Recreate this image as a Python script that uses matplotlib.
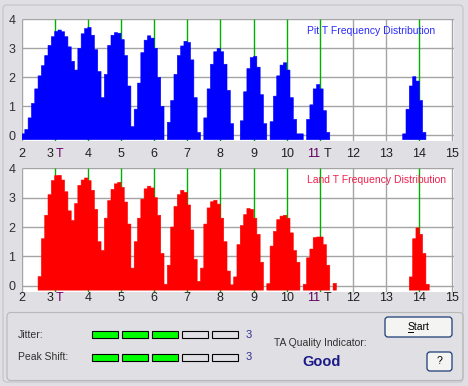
import numpy as np
import matplotlib
matplotlib.use('Agg')
import matplotlib.pyplot as plt
from matplotlib.patches import FancyBboxPatch, Rectangle

W, H = 468, 386
BG = '#e0dfe3'
plt.rcParams['font.family'] = ['Liberation Sans', 'DejaVu Sans']

# left edge of each 0.1 T histogram bin
t_bins = np.round(np.arange(2.0, 15.0, 0.1), 1)

# pit length histogram
pit_counts = [
    0.05, 0.2, 0.6, 1.1, 1.6, 2.05, 2.4, 2.75, 3.1, 3.4,
    3.58, 3.63, 3.57, 3.4, 3.05, 2.55, 2.25, 3.0, 3.5, 3.68,
    3.72, 3.45, 2.95, 2.2, 1.3, 2.1, 3.1, 3.45, 3.54, 3.52,
    3.3, 2.75, 1.7, 0.3, 0.9, 1.8, 2.85, 3.28, 3.43, 3.35,
    3.0, 2.0, 1.0, 0, 0.45, 1.2, 2.1, 2.75, 3.08, 3.24,
    3.2, 2.6, 1.3, 0.1, 0, 0.6, 1.6, 2.45, 2.88, 2.99,
    2.88, 2.45, 1.55, 0.4, 0, 0, 0.5, 1.5, 2.3, 2.68,
    2.72, 2.35, 1.4, 0.4, 0, 0.47, 1.35, 2.05, 2.42, 2.5,
    2.25, 1.3, 0.55, 0.05, 0.05, 0, 0.55, 1.05, 1.6, 1.75,
    1.6, 0.85, 0.1, 0, 0, 0, 0, 0, 0, 0,
    0, 0, 0, 0, 0, 0, 0, 0, 0, 0,
    0, 0, 0, 0, 0, 0.05, 0.9, 1.7, 2.02, 1.87,
    1.2, 0.1, 0, 0, 0, 0, 0, 0, 0, 0,
]

# land length histogram
land_counts = [
    0, 0, 0, 0, 0, 0.31, 1.6, 2.4, 3.1, 3.58,
    3.75, 3.76, 3.6, 3.2, 2.55, 2.22, 2.8, 3.42, 3.6, 3.67,
    3.58, 3.25, 2.6, 1.5, 1.2, 2.3, 2.9, 3.28, 3.47, 3.52,
    3.35, 2.85, 2.1, 0.6, 1.5, 2.3, 2.95, 3.3, 3.39, 3.33,
    3.0, 2.4, 1.1, 0.05, 0.7, 2.0, 2.7, 3.1, 3.25, 3.18,
    2.75, 1.9, 0.9, 0.15, 0.6, 2.1, 2.65, 2.86, 2.91, 2.78,
    2.3, 1.5, 0.5, 0.03, 0.3, 1.4, 2.05, 2.42, 2.63, 2.6,
    2.3, 1.75, 0.8, 0, 0.07, 1.35, 1.85, 2.25, 2.37, 2.4,
    2.3, 1.8, 1.2, 0.8, 0, 0.05, 0.95, 1.25, 1.64, 1.66,
    1.66, 1.4, 0.7, 0, 0.08, 0, 0, 0, 0, 0,
    0, 0, 0, 0, 0, 0, 0, 0, 0, 0,
    0, 0, 0, 0, 0, 0, 0, 0.3, 1.6, 1.97,
    1.75, 1.1, 0.05, 0, 0, 0, 0, 0, 0, 0,
]

t_marks = [3, 4, 5, 6, 7, 8, 9, 10, 11, 14]
x_ticks = list(range(2, 16))
y_ticks = [0, 1, 2, 3, 4]

jitter_level = 3
peak_shift_level = 3
n_segments = 5
quality = 'Good'


def fx(px):
    return px / W


def fy(py):
    return 1 - py / H


fig = plt.figure(figsize=(W / 100, H / 100), dpi=100, facecolor=BG)

# full-figure layer in pixel coords for frames, buttons and labels
ui = fig.add_axes([0, 0, 1, 1])
ui.set_xlim(0, W)
ui.set_ylim(H, 0)
ui.axis('off')
ui.set_zorder(-1)


def draw_hist(rect, counts, color, title, title_color, lab_y):
    ax = fig.add_axes(rect)
    ax.set_facecolor('white')
    ax.set_xlim(2, 15.06)
    ax.set_ylim(-0.2, 4.02)
    for s in ax.spines.values():
        s.set_visible(False)
    ax.set_xticks([])
    ax.set_yticks(y_ticks)
    ax.tick_params(axis='y', length=0, pad=4.5, labelsize=9, labelcolor='#303030')

    for t in x_ticks:
        if t not in t_marks:
            ax.vlines(t, -0.2, 4.02, color='#a4a4a4', lw=1.0, zorder=1)
    ax.hlines(y_ticks, 2, 15.06, color='#a4a4a4', lw=1.0, zorder=1)
    ax.vlines(t_marks, -0.2, 4.02, color='#00b000', lw=1.0, zorder=2)

    # one filled step polygon per run of non-empty bins
    h = np.array(counts)
    i = 0
    while i < len(h):
        if h[i] <= 0:
            i += 1
            continue
        j = i
        while j < len(h) and h[j] > 0:
            j += 1
        edges = np.append(t_bins[i:j], t_bins[j - 1] + 0.1)
        xs = np.concatenate([[edges[0]], np.repeat(edges, 2)[1:-1], [edges[-1]]])
        ys = np.concatenate([[-0.15], np.repeat(h[i:j], 2), [-0.15]])
        ax.fill(xs, ys, color=color, lw=0.4, snap=False, zorder=3)
        i = j

    ax.text(10.6, 3.6, title, color=title_color, fontsize=7.5, ha='left', va='center', zorder=4)

    for t in x_ticks:
        if t == 3:
            ax.text(t - 0.14, lab_y, '3', ha='center', va='center', fontsize=9, color='#202020', clip_on=False)
            ax.text(t + 0.14, lab_y, 'T', ha='center', va='center', fontsize=9, color='#700070', clip_on=False)
        elif t == 11:
            ax.text(t - 0.2, lab_y, '11', ha='center', va='center', fontsize=9, color='#600060', clip_on=False)
            ax.text(t + 0.24, lab_y, 'T', ha='center', va='center', fontsize=9, color='#202020', clip_on=False)
        else:
            ax.text(t, lab_y, str(t), ha='center', va='center', fontsize=9, color='#202020', clip_on=False)
    return ax


ax_pit = draw_hist([fx(21.5), fy(141.1), 432.9 / W, 122.4 / H], pit_counts, '#0000ff',
                   'Pit T Frequency Distribution', '#2a2aff', -0.64)
ax_land = draw_hist([fx(21.5), fy(291.6), 432.9 / W, 123.9 / H], land_counts, '#ff0000',
                    'Land T Frequency Distribution', '#f0204c', -0.42)

# outer frame and lower group box
ui.add_patch(FancyBboxPatch((3, 5), 460, 377, boxstyle='round,pad=0,rounding_size=4',
                            fc='none', ec='#c4c4c4', lw=0.8))
ui.add_patch(FancyBboxPatch((7, 312.5), 456, 68, boxstyle='round,pad=0,rounding_size=4',
                            fc='none', ec='#b8b8b8', lw=0.8))

# jitter / peak shift meters
for label, level, yc in [('Jitter:', jitter_level, 334.5), ('Peak Shift:', peak_shift_level, 357.2)]:
    ui.text(18, yc, label, fontsize=7.5, color='#303030', ha='left', va='center')
    for k in range(n_segments):
        fc = '#00ff00' if k < level else BG
        ui.add_patch(Rectangle((91.7 + 30 * k, yc - 3.6), 26.6, 7.2, fc=fc, ec='black', lw=0.8))
    ui.text(246, yc, str(level), fontsize=8, color='#303090', ha='left', va='center')

ui.text(274, 343.5, 'TA Quality Indicator:', fontsize=7.5, color='#303030', ha='left', va='center')
ui.text(322, 362, quality, fontsize=10.5, fontweight='bold', color='#1a1a88', ha='center', va='center')

# buttons
ui.add_patch(FancyBboxPatch((385, 317), 67, 20, boxstyle='round,pad=0,rounding_size=3',
                            fc='#f4f4f2', ec='#1c3c74', lw=0.9))
ui.text(418.5, 327, 'Start', fontsize=7.5, color='black', ha='center', va='center')
ui.plot([407.5, 412.5], [332, 332], color='black', lw=0.7)
ui.add_patch(FancyBboxPatch((427, 352), 25, 19, boxstyle='round,pad=0,rounding_size=3',
                            fc='#f4f4f2', ec='#1c3c74', lw=0.9))
ui.text(439.5, 361.5, '?', fontsize=7.5, color='black', ha='center', va='center')

fig.savefig('out.png', dpi=100, facecolor=BG)
